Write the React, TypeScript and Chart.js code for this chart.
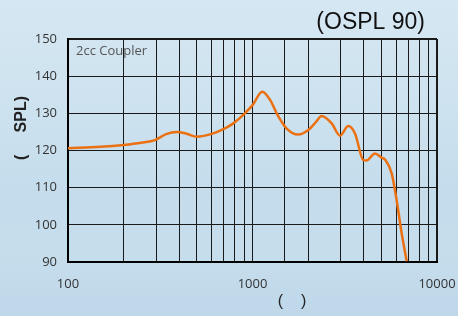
import React, { useEffect, useRef } from "react";
import { Chart, registerables } from "chart.js";

Chart.register(...registerables);

const freqs = [100, 150, 200, 250, 296, 340, 388, 440, 498, 613, 700, 787, 900, 1000, 1130, 1250, 1352, 1532, 1771, 2008, 2200, 2372, 2687, 2979, 3305, 3594, 3990, 4150, 4613, 5000, 5224, 5676, 6040, 6430, 6854];
const spl = [120.6, 121.0, 121.5, 122.1, 122.8, 124.4, 125.0, 124.5, 123.7, 124.6, 125.8, 127.3, 129.8, 132.2, 135.8, 133.5, 130.0, 125.9, 124.3, 125.5, 127.6, 129.3, 127.3, 124.0, 126.6, 124.6, 117.4, 117.3, 119.2, 118.1, 117.6, 113.9, 106.7, 97.8, 90.2];
const yTicks = [90, 100, 110, 120, 130, 140, 150];
const xLabels = [100, 1000, 10000];
const titleText = "(OSPL 90)";
const noteText = "2cc Coupler";
const yTitle = "(     SPL)";
const xTitle = "(    )";

const textPlugin = {
  id: "texts",
  afterDraw(chart: any) {
    const { ctx, chartArea } = chart;
    ctx.save();
    ctx.fillStyle = "#111";
    ctx.font = "23px 'Liberation Sans', Arial, sans-serif";
    ctx.textAlign = "right";
    ctx.textBaseline = "alphabetic";
    ctx.fillText(titleText, chartArea.right - 12, 29);

    ctx.fillStyle = "#555";
    ctx.font = "13px 'Open Sans', sans-serif";
    ctx.textAlign = "left";
    ctx.fillText(noteText, chartArea.left + 8, chartArea.top + 16);

    ctx.fillStyle = "#222";
    ctx.font = "16px 'Liberation Sans', Arial, sans-serif";
    ctx.textAlign = "center";
    ctx.textBaseline = "middle";
    ctx.fillText(xTitle, chartArea.left + 224, 302);

    ctx.translate(21, 128);
    ctx.rotate(-Math.PI / 2);
    ctx.font = "bold 16px 'Liberation Sans', Arial, sans-serif";
    ctx.fillText(yTitle, 0, 1);
    ctx.restore();
  },
};

export default function App() {
  const ref = useRef<HTMLCanvasElement>(null);
  useEffect(() => {
    if (!ref.current) return;
    const chart = new Chart(ref.current, {
      type: "line",
      data: {
        datasets: [
          {
            data: freqs.map((f, i) => ({ x: f, y: spl[i] })),
            borderColor: "#ea7012",
            borderWidth: 2.5,
            pointRadius: 0,
            cubicInterpolationMode: "monotone",
            fill: false,
          },
        ],
      },
      options: {
        animation: false,
        responsive: false,
        maintainAspectRatio: false,
        layout: { padding: { left: 0, right: 21, top: 39, bottom: 0 } },
        plugins: { legend: { display: false }, title: { display: false }, tooltip: { enabled: false } },
        scales: {
          x: {
            type: "logarithmic",
            min: 100,
            max: 10000,
            afterFit: (s: any) => {
              s.height = 54;
              s.paddingLeft = 0;
              s.paddingRight = 0;
            },
            grid: {
              color: "#1a1a1a",
              lineWidth: (c: any) => (c.tick && c.tick.value === 10000 ? 2 : 1),
              drawTicks: false,
            },
            border: { color: "#000", width: 2 },
            ticks: {
              autoSkip: false,
              maxRotation: 0,
              padding: 14,
              color: "#333",
              font: { family: "'Open Sans', sans-serif", size: 13 },
              callback: (v: any) => (xLabels.includes(Number(v)) ? String(v) : ""),
            },
          },
          y: {
            min: 90,
            max: 150,
            afterFit: (s: any) => {
              s.width = 68;
              s.paddingTop = 0;
              s.paddingBottom = 0;
            },
            afterBuildTicks: (s: any) => { s.ticks = yTicks.map((v) => ({ value: v })); },
            grid: {
              color: "#1a1a1a",
              lineWidth: (c: any) => (c.tick && c.tick.value === 150 ? 2 : 1),
              drawTicks: false,
            },
            border: { color: "#000", width: 2 },
            ticks: {
              padding: 11,
              color: "#333",
              font: { family: "'Open Sans', sans-serif", size: 13 },
            },
          },
        },
      },
      plugins: [textPlugin],
    } as any);
    return () => chart.destroy();
  }, []);
  return (
    <div
      style={{
        position: "fixed",
        left: 0,
        top: 0,
        width: 458,
        height: 316,
        background: "linear-gradient(180deg, #d5e7f2 0%, #cde2ef 35%, #c4dcec 60%, #c6ddec 80%, #bed8ea 100%)",
      }}
    >
      <canvas ref={ref} width={458} height={316} style={{ display: "block" }} />
    </div>
  );
}
